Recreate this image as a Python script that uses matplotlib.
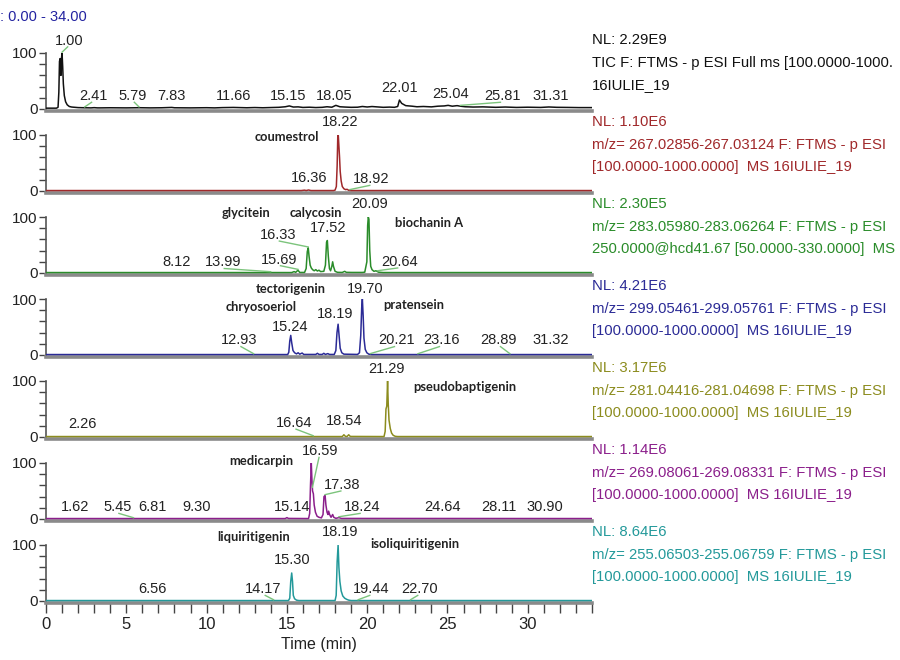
import numpy as np
import matplotlib
matplotlib.use("Agg")
import matplotlib.pyplot as plt

# ---------------- data: chromatogram traces (time [min], relative abundance [%]) -------------
tic_trace = [(0.0, 1.5), (0.65, 1.5), (0.75, 3), (0.80, 30), (0.84, 85), (0.88, 90), (0.93, 60),
             (0.97, 92), (1.00, 100), (1.04, 75), (1.08, 45), (1.14, 24), (1.22, 13), (1.32, 7.5),
             (1.45, 4.5), (1.6, 3.5), (1.8, 3.0), (2.0, 2.5), (2.4, 2.2), (2.8, 2.0), (3.0, 2.4),
             (3.2, 2.0), (3.4, 2.0), (4.0, 2.2), (5.0, 2.0), (5.79, 2.3), (6.5, 2.0), (7.2, 2.2),
             (7.83, 2.8), (8.0, 2.2), (9.0, 2.0), (10.0, 2.3), (10.5, 2.0), (11.0, 2.5), (11.66, 2.8),
             (12.5, 2.2), (13.0, 2.6), (13.5, 2.2), (14.0, 2.6), (14.5, 3.0), (14.9, 4.0), (15.15, 5.5),
             (15.4, 3.5), (15.7, 3.8), (16.0, 2.8), (16.4, 3.2), (16.8, 2.6), (17.2, 3.0), (17.5, 4.0),
             (17.8, 3.2), (18.05, 6.5), (18.3, 4.0), (18.6, 3.5), (19.0, 3.0), (19.4, 3.2), (19.7, 4.5),
             (20.0, 3.6), (20.3, 4.4), (20.6, 3.8), (21.0, 3.0), (21.4, 3.4), (21.7, 3.0), (21.9, 4.5),
             (22.01, 16), (22.15, 10), (22.4, 6), (22.8, 5.0), (23.1, 4.0), (23.5, 4.5), (24.0, 3.8),
             (24.4, 5.0), (24.8, 5.5), (25.04, 6.5), (25.3, 5.0), (25.6, 6.0), (25.81, 5.0), (26.1, 4.0),
             (26.6, 3.5), (27.2, 3.8), (28.0, 3.0), (28.6, 3.5), (29.3, 2.8), (30.0, 3.2), (30.8, 2.8),
             (31.31, 3.6), (31.8, 3.0), (32.5, 2.8), (33.2, 2.5), (34.0, 2.5)]

coumestrol_trace = [(0, 0.8), (15.9, 0.8), (16.1, 1.5), (16.2, 0.8), (16.35, 1.8), (16.5, 0.8),
                    (17.9, 0.8), (18.0, 1.5), (18.08, 8), (18.13, 45), (18.17, 98), (18.2, 100),
                    (18.24, 80), (18.28, 60), (18.32, 35), (18.38, 18), (18.45, 8), (18.55, 4),
                    (18.65, 2.5), (18.75, 3), (18.85, 1.2), (19.0, 0.8), (34, 0.8)]

m283_trace = [(0, 0.8), (15.3, 0.8), (15.45, 2.5), (15.55, 1.2), (15.69, 5), (15.8, 1), (16.1, 1),
              (16.2, 8), (16.27, 38), (16.33, 45), (16.38, 30), (16.45, 14), (16.52, 9), (16.6, 6),
              (16.7, 4), (16.8, 6), (16.9, 3.5), (17.0, 5), (17.1, 2.5), (17.3, 3), (17.4, 14),
              (17.47, 55), (17.52, 58), (17.58, 30), (17.65, 8), (17.72, 4), (17.8, 12), (17.85, 20),
              (17.9, 12), (18.0, 3), (18.15, 1.2), (18.45, 1), (18.6, 3), (18.7, 1.2), (19.05, 1),
              (19.7, 1), (19.85, 1.5), (19.98, 20), (20.03, 85), (20.07, 100), (20.11, 96), (20.16, 40),
              (20.22, 12), (20.3, 6), (20.42, 3), (20.55, 4), (20.7, 1.5), (21.0, 0.8), (34, 0.8)]

m299_trace = [(0, 0.8), (15.05, 0.8), (15.12, 5), (15.18, 25), (15.24, 35), (15.3, 22), (15.38, 8),
              (15.48, 4), (15.6, 2), (15.7, 4), (15.8, 1.5), (15.95, 3.5), (16.05, 1), (16.8, 1),
              (16.9, 3), (17.0, 1), (17.2, 1), (17.3, 3), (17.4, 1), (17.55, 2.5), (17.65, 1),
              (17.95, 1), (18.05, 8), (18.12, 40), (18.19, 55), (18.25, 35), (18.32, 12), (18.42, 4),
              (18.55, 1.5), (19.4, 1), (19.52, 4), (19.6, 35), (19.66, 85), (19.7, 100), (19.75, 70),
              (19.8, 30), (19.88, 10), (19.98, 4), (20.1, 1.5), (20.3, 0.8), (34, 0.8)]

m281_trace = [(0, 0.8), (18.45, 0.8), (18.55, 4), (18.65, 1), (18.75, 1), (18.85, 4), (18.95, 1),
              (21.05, 0.8), (21.12, 10), (21.17, 50), (21.22, 55), (21.27, 100), (21.31, 60),
              (21.36, 30), (21.44, 15), (21.52, 7), (21.62, 3), (21.75, 1.2), (21.9, 0.8), (34, 0.8)]

m269_trace = [(0, 0.8), (14.9, 0.8), (15.0, 2.5), (15.1, 1), (16.35, 0.8), (16.42, 10), (16.47, 60),
              (16.52, 100), (16.56, 70), (16.6, 50), (16.65, 45), (16.7, 25), (16.78, 12), (16.88, 5),
              (17.0, 3), (17.15, 2), (17.25, 8), (17.31, 40), (17.38, 42), (17.43, 25), (17.5, 12),
              (17.56, 8), (17.6, 14), (17.66, 8), (17.75, 3), (17.85, 8), (17.92, 3), (18.05, 1.2),
              (18.24, 2.5), (18.4, 1), (34, 0.8)]

m255_trace = [(0, 0.8), (15.1, 0.8), (15.18, 5), (15.24, 35), (15.3, 50), (15.35, 35), (15.4, 10),
              (15.48, 4), (15.6, 1.5), (15.75, 0.8), (18.0, 0.8), (18.07, 10), (18.13, 70),
              (18.19, 100), (18.24, 60), (18.3, 35), (18.38, 18), (18.48, 9), (18.6, 5), (18.72, 3),
              (18.85, 1.5), (19.0, 0.8), (34, 0.8)]

# ---------------- data: peak labels (retention times) and compound names --------------------
tic_rt = ["1.00", "2.41", "5.79", "7.83", "11.66", "15.15", "18.05", "22.01", "25.04", "25.81", "31.31"]
coumestrol_rt = ["18.22", "16.36", "18.92"]
m283_rt = ["20.09", "16.33", "17.52", "8.12", "13.99", "15.69", "20.64"]
m299_rt = ["19.70", "18.19", "15.24", "12.93", "20.21", "23.16", "28.89", "31.32"]
m281_rt = ["21.29", "2.26", "16.64", "18.54"]
m269_rt = ["16.59", "17.38", "1.62", "5.45", "6.81", "9.30", "15.14", "18.24", "24.64", "28.11", "30.90"]
m255_rt = ["18.19", "15.30", "6.56", "14.17", "19.44", "22.70"]

coumestrol_names = ["coumestrol"]
m283_names = ["glycitein", "calycosin", "biochanin A"]
m299_names = ["tectorigenin", "chryosoeriol", "pratensein"]
m281_names = ["pseudobaptigenin"]
m269_names = ["medicarpin"]
m255_names = ["liquiritigenin", "isoliquiritigenin"]

# ---------------- data: header texts on the right (as far as the reference shows them) -------
nl_values = ["NL: 2.29E9", "NL: 1.10E6", "NL: 2.30E5", "NL: 4.21E6", "NL: 3.17E6", "NL: 1.14E6", "NL: 8.64E6"]
filter_line1 = ["TIC F: FTMS - p ESI Full ms [100.0000-1000.",
                "m/z= 267.02856-267.03124 F: FTMS - p ESI",
                "m/z= 283.05980-283.06264 F: FTMS - p ESI",
                "m/z= 299.05461-299.05761 F: FTMS - p ESI",
                "m/z= 281.04416-281.04698 F: FTMS - p ESI",
                "m/z= 269.08061-269.08331 F: FTMS - p ESI",
                "m/z= 255.06503-255.06759 F: FTMS - p ESI"]
filter_line2 = ["16IULIE_19",
                "[100.0000-1000.0000]  MS 16IULIE_19",
                "250.0000@hcd41.67 [50.0000-330.0000]  MS",
                "[100.0000-1000.0000]  MS 16IULIE_19",
                "[100.0000-1000.0000]  MS 16IULIE_19",
                "[100.0000-1000.0000]  MS 16IULIE_19",
                "[100.0000-1000.0000]  MS 16IULIE_19"]
time_range_text = ": 0.00 - 34.00"
x_ticks = list(range(0, 35))
x_ticklabels = [str(v) if v % 5 == 0 else "" for v in x_ticks]

# ---------------- layout: label positions (x in min, y in % of panel) ---------------------
tic_rt_pos = [(1.45, 122), (2.94, 23), (5.40, 23), (7.80, 23), (11.70, 23), (15.06, 23), (17.93, 23),
              (22.03, 38), (25.17, 26), (28.4, 23), (31.4, 23)]
coumestrol_rt_pos = [(18.3, 123), (16.4, 23), (20.26, 21)]
m283_rt_pos = [(20.14, 124), (14.43, 68), (17.55, 80), (8.1, 19), (11.0, 19), (14.5, 24), (22.0, 20)]
m299_rt_pos = [(19.85, 117), (17.98, 74), (15.23, 50), (12.04, 26), (21.8, 26), (24.6, 26),
               (28.2, 26), (31.4, 26)]
m281_rt_pos = [(21.2, 122), (2.29, 23), (15.47, 25), (18.58, 28)]
m269_rt_pos = [(17.1, 121), (18.46, 61), (1.81, 21), (4.44, 21), (6.6, 21), (9.36, 21), (15.3, 21),
               (19.66, 21), (24.7, 21), (28.2, 21), (31.04, 21)]
m255_rt_pos = [(18.34, 123), (15.35, 74), (6.6, 21), (13.55, 21), (20.26, 21), (23.25, 21)]

coumestrol_names_pos = [(15.0, 96)]
m283_names_pos = [(12.45, 108), (16.78, 108), (23.85, 90)]
m299_names_pos = [(15.25, 118), (13.38, 86), (22.9, 89)]
m281_names_pos = [(26.1, 89)]
m269_names_pos = [(13.43, 104)]
m255_names_pos = [(12.95, 114), (23.0, 102)]

panel_colors = ["#111111", "#a0282a", "#2a8c2a", "#2b2b96", "#8c8c1e", "#8b1f8b", "#23999a"]

panels = [
    (tic_trace, tic_rt, tic_rt_pos, [], []),
    (coumestrol_trace, coumestrol_rt, coumestrol_rt_pos, coumestrol_names, coumestrol_names_pos),
    (m283_trace, m283_rt, m283_rt_pos, m283_names, m283_names_pos),
    (m299_trace, m299_rt, m299_rt_pos, m299_names, m299_names_pos),
    (m281_trace, m281_rt, m281_rt_pos, m281_names, m281_names_pos),
    (m269_trace, m269_rt, m269_rt_pos, m269_names, m269_names_pos),
    (m255_trace, m255_rt, m255_rt_pos, m255_names, m255_names_pos),
]

# ---------------- drawing -----------------------------------------------------------------
W, H = 900, 660
fig = plt.figure(figsize=(W / 100, H / 100), dpi=100)
fig.patch.set_facecolor("white")
NUMFONT = ["Liberation Sans", "DejaVu Sans"]
NAMEFONT = ["Lato", "DejaVu Sans"]
HDR_SIZE = 10.7

X0, X1 = 46, 592
PITCH = 82
PH = 56          # pixel height of 0..100
YMIN = -3

for i, (trace, rts, rt_pos, names, names_pos) in enumerate(panels):
    zero = 109 + PITCH * i
    top = zero - PH
    bottom_px = zero - YMIN * PH / 100.0
    ax = fig.add_axes([X0 / W, 1 - bottom_px / H, (X1 - X0) / W, (bottom_px - top) / H])
    ax.set_xlim(0, 34)
    ax.set_ylim(YMIN, 100)
    ax.patch.set_alpha(0)

    t = np.array([p[0] for p in trace])
    y = np.array([p[1] for p in trace])
    ax.plot(t, y, color=panel_colors[i], lw=1.1, zorder=3)

    # axes styling
    for s in ("top", "right"):
        ax.spines[s].set_visible(False)
    ax.spines["left"].set_color("#555555")
    ax.spines["left"].set_linewidth(1.2)
    ax.spines["bottom"].set_color("#8a8a8a")
    ax.spines["bottom"].set_linewidth(2.6)
    ax.set_yticks([0, 20, 40, 60, 80, 100])
    ax.set_yticklabels(["0", "", "", "", "", "100"])
    ax.tick_params(axis="y", direction="out", length=5, width=1, color="#444444",
                   labelsize=11, pad=1, labelcolor="#222222")
    for lab in ax.get_yticklabels():
        lab.set_family(NUMFONT)
    if i == len(panels) - 1:
        ax.set_xticks(x_ticks)
        ax.set_xticklabels(x_ticklabels)
        ax.tick_params(axis="x", direction="out", length=7, width=1, color="#444444",
                       labelsize=12, pad=3, labelcolor="#222222")
        for lab in ax.get_xticklabels():
            lab.set_family(NUMFONT)
        ax.set_xlabel("Time (min)", fontsize=11.5, family=NUMFONT, color="#222222", labelpad=4)
    else:
        ax.set_xticks([])

    # peak labels with leader lines
    for txt, (lx, ly) in zip(rts, rt_pos):
        ax.text(lx, ly, txt, ha="center", va="center", fontsize=10.5, family=NUMFONT,
                color="#222222", clip_on=False, zorder=5)
        rt = float(txt)
        if abs(lx - rt) > 0.3:
            h = np.interp(rt, t, y)
            ax.plot([rt, lx - 0.1 * np.sign(lx - rt)], [h + 1.5, ly - 11], color="#7cc47c",
                    lw=1.0, clip_on=False, zorder=4)
    for txt, (lx, ly) in zip(names, names_pos):
        ax.text(lx, ly, txt, ha="center", va="center", fontsize=9.3, family=NAMEFONT,
                fontweight="bold", color="#222222", clip_on=False, zorder=5)

    # header text on the right
    c = panel_colors[i]
    base = top - 13
    fig.text(592 / W, 1 - base / H, nl_values[i], color=c, fontsize=HDR_SIZE, family=NUMFONT, va="center")
    fig.text(592 / W, 1 - (base + 23) / H, filter_line1[i], color=c, fontsize=HDR_SIZE, family=NUMFONT,
             va="center")
    fig.text(592 / W, 1 - (base + 45) / H, filter_line2[i], color=c, fontsize=HDR_SIZE, family=NUMFONT,
             va="center")

fig.text(0 / W, 1 - 17 / H, time_range_text, color="#2323a0", fontsize=10.5, family=NUMFONT, va="center")

fig.savefig("out.png", dpi=100, facecolor="white")
